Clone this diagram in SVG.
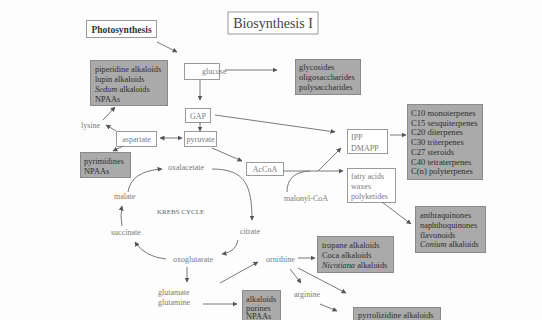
<svg xmlns="http://www.w3.org/2000/svg" width="542" height="320" viewBox="0 0 542 320">
<defs>
<marker id="ah" viewBox="0 0 10 10" refX="9" refY="5" markerWidth="5" markerHeight="5" markerUnits="userSpaceOnUse" orient="auto-start-reverse">
<path d="M0,0 L10,5 L0,10 z" fill="#555"/>
</marker>
</defs>
<style>
text{font-family:"Liberation Serif","Times New Roman",serif;font-size:8px;fill:#7a7a7a}
.g rect{fill:#aaaaaa;stroke:#8a8a8a;stroke-width:1}
.g text{fill:#2e2e2e;font-size:8.4px}
.w rect{fill:#fff;stroke:#9a9a9a;stroke-width:1}
.t text{font-size:8.6px}
.c{fill:none;stroke:#6a6a6a;stroke-width:0.9;marker-end:url(#ah)}
.i{font-style:italic}
</style>
<rect width="542" height="320" fill="#fdfdfd"/>

<g id="title" class="w"><rect x="228" y="12" width="90" height="22" stroke="#888"/><text x="273" y="28" text-anchor="middle" style="font-size:14px;fill:#444">Biosynthesis I</text></g>
<g id="photosynthesis" class="w"><rect x="86.5" y="20.5" width="70" height="17" stroke="#888"/><text x="121.5" y="32.5" text-anchor="middle" style="font-size:9.5px;font-weight:bold;fill:#333">Photosynthesis</text></g>
<g id="glucose" class="w"><rect x="184.5" y="63.5" width="35" height="16"/><text x="202" y="74">glucose</text></g>
<g id="glycosides" class="g"><rect x="295.5" y="59.5" width="65" height="35"/><text x="299" y="70">glycosides</text><text x="299" y="80">oligosaccharides</text><text x="299" y="90">polysaccharides</text></g>
<g id="piperidine" class="g"><rect x="90.5" y="60.5" width="77" height="45"/><text x="95" y="72">piperidine alkaloids</text><text x="95" y="82">lupin alkaloids</text><text x="95" y="92"><tspan class="i">Sedum</tspan> alkaloids</text><text x="95" y="102">NPAAs</text></g>
<g id="gap" class="w"><rect x="185.5" y="108.5" width="25" height="14"/><text x="198" y="118.5" text-anchor="middle">GAP</text></g>
<g id="pyruvate" class="w"><rect x="184.5" y="131.5" width="32" height="15"/><text x="200.5" y="141.5" text-anchor="middle">pyruvate</text></g>
<g id="aspartate" class="w"><rect x="116.5" y="131.5" width="40" height="15"/><text x="136.5" y="141.5" text-anchor="middle">aspartate</text></g>
<g id="lysine"><text x="81" y="128">lysine</text></g>
<g id="pyrimidines" class="g"><rect x="80.5" y="152.5" width="50" height="25"/><text x="84" y="164">pyrimidines</text><text x="84" y="173.5">NPAAs</text></g>
<g id="accoa" class="w"><rect x="246.5" y="162.5" width="37" height="13"/><text x="265" y="172" text-anchor="middle">AcCoA</text></g>
<g id="ipp" class="w"><rect x="347.5" y="129.5" width="40" height="24"/><text x="351" y="139.5">IPP</text><text x="351" y="150.5">DMAPP</text></g>
<g id="terpenes" class="g t"><rect x="407.5" y="104.5" width="75" height="75"/><text x="411" y="116">C10 monoterpenes</text><text x="411" y="125.7">C15 sesquiterpenes</text><text x="411" y="135.4">C20 diterpenes</text><text x="411" y="145.1">C30 triterpenes</text><text x="411" y="154.8">C27 steroids</text><text x="411" y="164.5">C40 tetraterpenes</text><text x="411" y="174.2">C(n) polyterpenes</text></g>
<g id="fattyacids" class="w"><rect x="347.5" y="168.5" width="48" height="34"/><text x="351" y="179">fatty acids</text><text x="351" y="189">waxes</text><text x="351" y="199">polyketides</text></g>
<g id="malonyl"><text x="284" y="201">malonyl-CoA</text></g>
<g id="anthraquinones" class="g"><rect x="415.5" y="206.5" width="70" height="46"/><text x="420" y="218">anthraquinones</text><text x="420" y="228">naphthoquinones</text><text x="420" y="237.5">flavonoids</text><text x="420" y="247"><tspan class="i">Conium</tspan> alkaloids</text></g>
<g id="oxalacetate"><text x="168" y="170">oxalacetate</text></g>
<g id="malate"><text x="114" y="199">malate</text></g>
<g id="krebs"><text x="157" y="214" style="font-size:7px;fill:#666">KREBS CYCLE</text></g>
<g id="succinate"><text x="111" y="235">succinate</text></g>
<g id="citrate"><text x="240" y="234">citrate</text></g>
<g id="oxoglutarate"><text x="173" y="262">oxoglutarate</text></g>
<g id="glutamate"><text x="158" y="295">glutamate</text><text x="158" y="305">glutamine</text></g>
<g id="ornithine"><text x="266" y="262">ornithine</text></g>
<g id="arginine"><text x="294" y="297">arginine</text></g>
<g id="alkaloids" class="g"><rect x="242.5" y="290.5" width="38" height="36"/><text x="246" y="301.5">alkaloids</text><text x="246" y="310.5">purines</text><text x="246" y="319">NPAAs</text></g>
<g id="tropane" class="g"><rect x="317.5" y="236.5" width="76" height="36"/><text x="322" y="248">tropane alkaloids</text><text x="322" y="258">Coca alkaloids</text><text x="322" y="267.5"><tspan class="i">Nicotiana</tspan> alkaloids</text></g>
<g id="pyrrolizidine" class="g"><rect x="353.5" y="307.5" width="87" height="20"/><text x="358" y="318">pyrrolizidine alkaloids</text></g>

<g id="connectors">
<path class="c" d="M157,42 L177,52"/>
<path class="c" d="M225,70 L277,70"/>
<path class="c" d="M200,80 L200,100"/>
<path class="c" d="M200,122 L200,131"/>
<path class="c" d="M160,138 L182,138" style="marker-start:url(#ah)"/>
<path class="c" d="M116,131 L106,125"/>
<path class="c" d="M103,120 L115,107"/>
<path class="c" d="M123,146 L113,151"/>
<path class="c" d="M212,148 L242,161"/>
<path class="c" d="M215,115 L335,132"/>
<path class="c" d="M390,135 L406,135"/>
<path class="c" d="M283,171 L343,171"/>
<path class="c" d="M318,171 L341,148"/>
<path class="c" d="M287,192 Q287,172 310,171" style="marker-end:none"/>
<path class="c" d="M382,202 L411,224"/>
<path class="c" d="M128,192 Q131,171 162,169"/>
<path class="c" d="M212,169 C245,169 252,185 252,220"/>
<path class="c" d="M238,240 Q236,252 222,254"/>
<path class="c" d="M166,259 Q145,257 135,242"/>
<path class="c" d="M122,226 Q120,216 122,206"/>
<path class="c" d="M187,267 L187,282"/>
<path class="c" d="M203,304 L237,304"/>
<path class="c" d="M220,283 L258,262"/>
<path class="c" d="M298,258 L315,258"/>
<path class="c" d="M290,269 L301,283"/>
<path class="c" d="M298,268 L346,293"/>
<path class="c" d="M320,304 L337,311"/>
</g>
</svg>
